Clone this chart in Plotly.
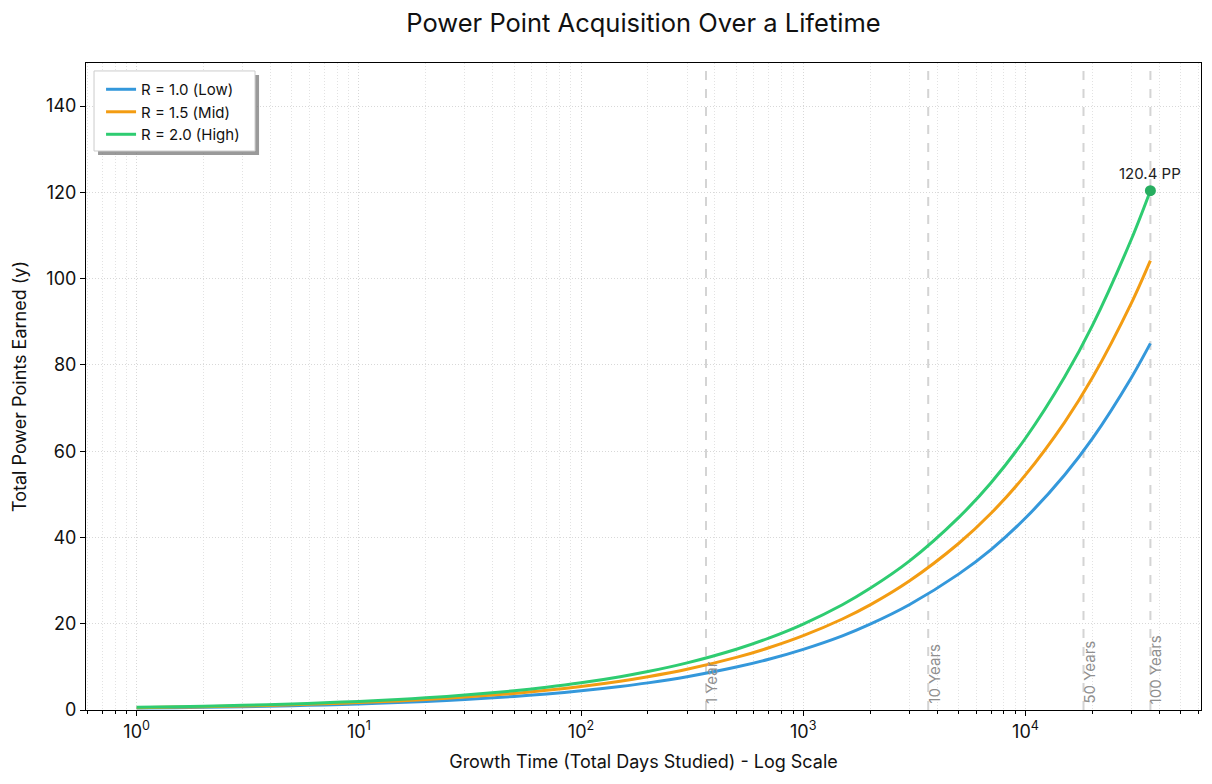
import math
import plotly.graph_objects as go

# Days studied (x) and power points
days = [1, 1.5, 2, 3, 5, 7, 10, 15, 20, 30, 50, 70, 100, 150, 200, 300, 500, 700,
        1000, 1500, 2000, 3000, 5000, 7000, 10000, 15000, 20000, 30000, 36500]
pp_low = [0.45, 0.55, 0.63, 0.77, 1.0, 1.18, 1.41, 1.72, 1.99, 2.44, 3.15, 3.72, 4.45, 5.45, 6.29, 7.71, 9.95, 11.77,
          14.07, 17.2, 19.9, 24.4, 31.5, 37.2, 44.5, 54.5, 62.9, 77.1, 85.0]
pp_mid = [0.55, 0.67, 0.77, 0.94, 1.22, 1.44, 1.72, 2.11, 2.44, 2.99, 3.85, 4.56, 5.45, 6.67, 7.71, 9.44, 12.19, 14.42,
          17.23, 21.1, 24.37, 29.9, 38.6, 45.6, 54.5, 66.7, 77.0, 94.4, 104.2]
pp_high = [0.63, 0.77, 0.89, 1.09, 1.41, 1.67, 1.99, 2.44, 2.82, 3.45, 4.46, 5.27, 6.30, 7.72, 8.91, 10.92, 14.09, 16.67,
           19.93, 24.4, 28.2, 34.5, 44.6, 52.7, 63.0, 77.2, 89.1, 109.2, 120.4]

series_names = ["R = 1.0 (Low)", "R = 1.5 (Mid)", "R = 2.0 (High)"]
series_colors = ["#3498db", "#f39c12", "#2ecc71"]

milestone_days = [365, 3650, 18250, 36500]
milestone_labels = ["1 Year", "10 Years", "50 Years", "100 Years"]

tick_vals = [1, 10, 100, 1000, 10000]
tick_text = ["10<sup>0</sup>", "10<sup>1</sup>", "10<sup>2</sup>", "10<sup>3</sup>", "10<sup>4</sup>"]

end_label = "120.4 PP"

FONT = "Inter, Roboto, sans-serif"

fig = go.Figure()
for name, col, ys in zip(series_names, series_colors, [pp_low, pp_mid, pp_high]):
    fig.add_trace(go.Scatter(x=days, y=ys, mode="lines", name=name,
                             line=dict(color=col, width=3, shape="spline", smoothing=0.8)))

fig.add_trace(go.Scatter(x=[days[-1]], y=[pp_high[-1]], mode="markers",
                         marker=dict(color="#27ae60", size=11), showlegend=False, hoverinfo="skip"))

shapes = []
annotations = []
for d, lab in zip(milestone_days, milestone_labels):
    shapes.append(dict(type="line", xref="x", yref="paper", x0=d, x1=d, y0=0, y1=1,
                       line=dict(color="rgba(160,160,160,0.45)", width=2, dash="dash"), layer="below"))
    annotations.append(dict(x=math.log10(d), y=0, xref="x", yref="y", text=lab, textangle=-90,
                            showarrow=False, xanchor="left", yanchor="bottom", xshift=-6, yshift=4,
                            font=dict(size=15, color="#8f8f8f", family=FONT)))

annotations.append(dict(x=math.log10(days[-1]), y=pp_high[-1], xref="x", yref="y", text=end_label,
                        showarrow=False, yanchor="bottom", yshift=6,
                        font=dict(size=15, color="#222", family=FONT)))

# legend shadow and frame
shapes.append(dict(type="rect", xref="paper", yref="paper", x0=0.0108, x1=0.1552, y0=0.8578, y1=0.9815,
                   fillcolor="rgba(120,120,120,0.75)", line=dict(width=0), layer="above"))
shapes.append(dict(type="rect", xref="paper", yref="paper", x0=0.0072, x1=0.1516, y0=0.864, y1=0.9877,
                   fillcolor="white", line=dict(color="#cccccc", width=1), layer="above"))

fig.update_layout(
    width=1212, height=784,
    margin=dict(l=86, r=11, t=63, b=74),
    paper_bgcolor="white", plot_bgcolor="white",
    font=dict(family=FONT, color="#111"),
    title=dict(text="Power Point Acquisition Over a Lifetime", x=0.5, xref="paper", xanchor="center",
               y=0.97, yanchor="middle", font=dict(size=25.5, family=FONT, color="#111")),
    shapes=shapes, annotations=annotations,
    legend=dict(x=0.0135, y=0.9845, xanchor="left", yanchor="top", bgcolor="rgba(0,0,0,0)",
                borderwidth=0, font=dict(size=15, family=FONT), tracegroupgap=0),
    showlegend=True,
)

fig.update_xaxes(type="log", range=[-0.228, 4.79],
                 tickvals=tick_vals, ticktext=tick_text, tickfont=dict(size=18),
                 ticks="outside", ticklen=5, tickcolor="black",
                 showline=True, linecolor="black", linewidth=1, mirror=True,
                 showgrid=True, gridcolor="#d8d8d8", griddash="1px,2px", gridwidth=1,
                 minor=dict(ticks="outside", ticklen=3, tickcolor="black", showgrid=True,
                            gridcolor="#e2e2e2", griddash="1px,2px", dtick="D1"),
                 zeroline=False,
                 title=dict(text="Growth Time (Total Days Studied) - Log Scale", font=dict(size=18), standoff=14))
fig.update_yaxes(range=[0, 150], dtick=20, tickfont=dict(size=18),
                 ticks="outside", ticklen=5, tickcolor="black",
                 showline=True, linecolor="black", linewidth=1, mirror=True,
                 showgrid=True, gridcolor="#d8d8d8", griddash="1px,2px", gridwidth=1,
                 zeroline=False,
                 title=dict(text="Total Power Points Earned (y)", font=dict(size=18), standoff=14))

fig.write_html("out.html")
